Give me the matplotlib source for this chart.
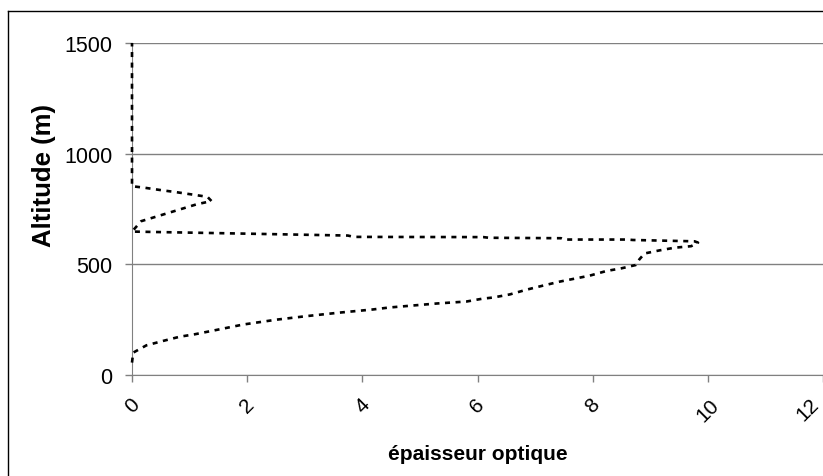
import matplotlib.pyplot as plt
from matplotlib.lines import Line2D

plt.rcParams["font.family"] = ["Liberation Sans", "DejaVu Sans"]

# épaisseur optique (x) en fonction de l'altitude (y)
epaisseur = [0.0, 0.02, 0.25, 0.54, 0.83, 1.09, 1.38, 1.93, 2.51, 3.03, 3.61,
             4.18, 4.47, 5.29, 5.81, 6.09, 6.27, 6.56, 6.86, 7.14, 7.43, 7.95,
             8.24, 8.5, 8.75, 8.81, 8.9, 9.16, 9.42, 9.71, 9.83,
             9.77, 8.7, 8.6, 7.5, 7.45, 6.2, 6.1, 3.85, 3.75, 1.7, 0.0,
             0.16, 0.54, 0.83, 1.12, 1.38, 1.31, 1.03, 0.77, 0.51, 0.22, 0.0,
             0.0]
altitude = [56, 101, 134, 154, 173, 184, 199, 228, 250, 266, 282,
            296, 305, 323, 332, 345, 350, 364, 386, 404, 422, 449,
            470, 482, 497, 522, 549, 563, 575, 582, 598,
            604, 610, 612, 612, 618, 620, 623, 624, 630, 640, 648,
            695, 725, 748, 771, 786, 805, 816, 826, 835, 846, 853,
            1500]

xticks = [0, 2, 4, 6, 8, 10, 12]
yticks = [0, 500, 1000, 1500]

fig = plt.figure(figsize=(8.23, 4.77), dpi=100)
ax = fig.add_axes([132 / 823, 1 - 376 / 477, 691 / 823, 332 / 477])

ax.plot(epaisseur, altitude, color="black", lw=1.9, linestyle=(0, (1.9, 2.1)),
        clip_on=False, zorder=5)

ax.set_xlim(0, 12)
ax.set_ylim(0, 1500)
ax.set_xticks(xticks)
ax.set_yticks(yticks)
ax.set_xticklabels([str(v) for v in xticks], rotation=45, fontsize=15)
ax.get_xticklabels()[-1].set_ha("right")
ax.set_yticklabels([str(v) for v in yticks], fontsize=15.5)
ax.tick_params(axis="x", direction="out", length=5, width=1, color="#808080", pad=9)
ax.tick_params(axis="y", direction="out", length=5, width=1, color="#808080", pad=9)

ax.yaxis.grid(True, color="#808080", lw=1)
ax.set_axisbelow(True)
for s in ["top", "right"]:
    ax.spines[s].set_visible(False)
ax.spines["left"].set_color("#808080")
ax.spines["bottom"].set_color("#808080")

ax.set_xlabel("épaisseur optique", fontsize=15, fontweight="bold", labelpad=14)
ax.set_ylabel("Altitude (m)", fontsize=18.5, fontweight="bold")
ax.yaxis.set_label_coords(-0.11, 0.605)

# cadre extérieur (seulement gauche et haut visibles)
fig.add_artist(Line2D([8 / 823, 8 / 823], [0, 1 - 12 / 477], color="black", lw=1,
                      transform=fig.transFigure))
fig.add_artist(Line2D([8 / 823, 1], [1 - 12 / 477, 1 - 12 / 477], color="black", lw=1,
                      transform=fig.transFigure))

fig.savefig("out.png", dpi=100)
